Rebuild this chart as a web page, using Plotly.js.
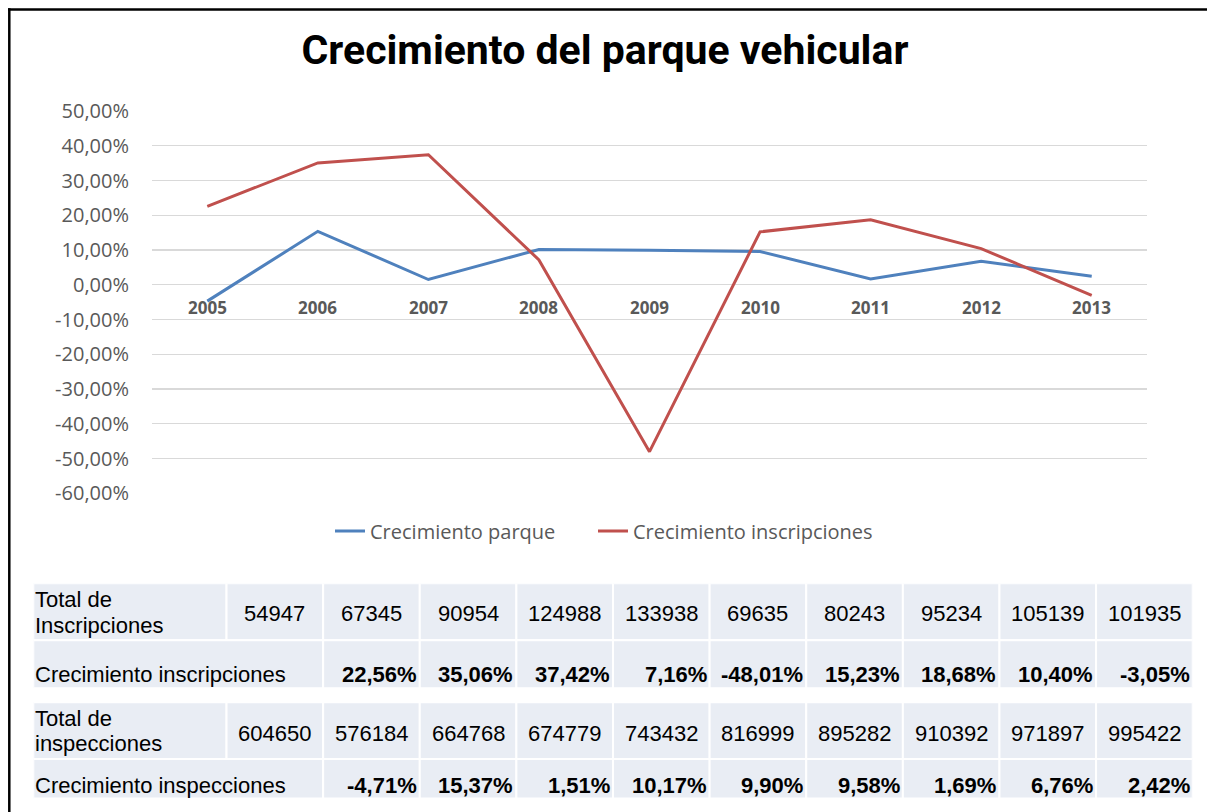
<!DOCTYPE html>
<html><head><meta charset="utf-8">
<script src="https://cdn.plot.ly/plotly-3.0.1.min.js"></script>
<style>html,body{margin:0;padding:0;background:#fff}</style>
</head><body><div id="chart" style="width:1207px;height:812px"></div>
<script>
// ---- data ----
const years = ['2005','2006','2007','2008','2009','2010','2011','2012','2013'];
const crecimientoParque = [-4.71, 15.37, 1.51, 10.17, 9.90, 9.58, 1.69, 6.76, 2.42];
const crecimientoInscripciones = [22.56, 35.06, 37.42, 7.16, -48.01, 15.23, 18.68, 10.40, -3.05];
const totalInscripciones = [54947, 67345, 90954, 124988, 133938, 69635, 80243, 95234, 105139, 101935];
const totalInspecciones = [604650, 576184, 664768, 674779, 743432, 816999, 895282, 910392, 971897, 995422];
const yTickValues = [50, 40, 30, 20, 10, 0, -10, -20, -30, -40, -50, -60];
const seriesNames = ['Crecimiento parque', 'Crecimiento inscripciones'];
const chartTitle = 'Crecimiento del parque vehicular';
const rowLabels = [['Total de', 'Inscripciones'], ['Crecimiento inscripciones'], ['Total de', 'inspecciones'], ['Crecimiento inspecciones']];

// ---- helpers ----
const pct = v => v.toFixed(2).replace('.', ',') + '%';
const W = 1207, H = 812;
const px = x => x / W, py = y => 1 - y / H;

const GRAY = '#595959';
const TFONT = 'Liberation Sans, Arial, sans-serif';

const traces = [
  {type: 'scatter', mode: 'lines', x: years, y: crecimientoParque, name: seriesNames[0], legend: 'legend',
   line: {color: '#4F81BD', width: 3}, hoverinfo: 'skip'},
  {type: 'scatter', mode: 'lines', x: years, y: crecimientoInscripciones, name: seriesNames[1], legend: 'legend2',
   line: {color: '#C0504D', width: 3}, hoverinfo: 'skip'}
];

const annotations = [];
const shapes = [];

// year labels on the zero line (category index positions)
years.forEach((yr, i) => annotations.push({
  x: i, y: 0, xref: 'x', yref: 'y', text: yr, showarrow: false,
  xanchor: 'center', yanchor: 'middle', yshift: -23,
  font: {family: 'Open Sans, sans-serif', size: 17, color: GRAY, weight: 700}
}));

// ---- table (x2: column units, y2: row units) ----
const rows = [
  {y0: 0, y1: 57, labelSpan: 2, values: totalInscripciones.map(String), start: 2, bold: false, align: 'center', labelY: [16.5, 42], valY: 30.7},
  {y0: 57, y1: 105, labelSpan: 3, values: crecimientoInscripciones.map(pct), start: 3, bold: true, align: 'right', labelY: [91.5], valY: 91.5},
  {y0: 119, y1: 176, labelSpan: 2, values: totalInspecciones.map(String), start: 2, bold: false, align: 'center', labelY: [135, 160.5], valY: 150.5},
  {y0: 176, y1: 215.5, labelSpan: 3, values: crecimientoParque.map(pct), start: 3, bold: true, align: 'right', labelY: [202], valY: 202.5}
];
const CELL = '#E9EDF4';
rows.forEach((r, ri) => {
  shapes.push({type: 'rect', xref: 'x2', yref: 'y2', x0: 0, x1: r.labelSpan, y0: r.y0, y1: r.y1,
    fillcolor: CELL, line: {color: '#ffffff', width: 2}, layer: 'below'});
  rowLabels[ri].forEach((t, li) => annotations.push({
    xref: 'x2', yref: 'y2', x: 0, y: r.labelY[li], text: t, showarrow: false,
    xanchor: 'left', yanchor: 'middle', xshift: 0,
    font: {family: TFONT, size: 22, color: '#000'}
  }));
  r.values.forEach((v, i) => {
    const c0 = r.start + i;
    shapes.push({type: 'rect', xref: 'x2', yref: 'y2', x0: c0, x1: c0 + 1, y0: r.y0, y1: r.y1,
      fillcolor: CELL, line: {color: '#ffffff', width: 2}, layer: 'below'});
    annotations.push({
      xref: 'x2', yref: 'y2', x: r.align === 'center' ? c0 + 0.5 : c0 + 1, y: r.valY,
      text: v, showarrow: false, xanchor: r.align, yanchor: 'middle', xshift: r.align === 'right' ? -1 : 0,
      font: {family: TFONT, size: 22, color: '#000', weight: r.bold ? 700 : 400}
    });
  });
});

// frame lines
shapes.push({type: 'line', xref: 'paper', yref: 'paper', x0: px(8), x1: 1, y0: py(9.5), y1: py(9.5), line: {color: '#000', width: 2.5}});
shapes.push({type: 'line', xref: 'paper', yref: 'paper', x0: px(9.3), x1: px(9.3), y0: py(8.3), y1: 0, line: {color: '#000', width: 2.5}});

const legendStyle = {orientation: 'h', yanchor: 'middle', xanchor: 'left', y: py(531),
  font: {family: 'Open Sans, sans-serif', size: 20, color: GRAY}, bgcolor: 'rgba(0,0,0,0)'};

const layout = {
  width: W, height: H,
  margin: {l: 0, r: 0, t: 0, b: 0},
  paper_bgcolor: '#fff', plot_bgcolor: 'rgba(0,0,0,0)',
  title: {text: chartTitle, x: px(605), y: py(50), xref: 'paper', yref: 'paper', xanchor: 'center', yanchor: 'middle',
          font: {family: 'Roboto, sans-serif', size: 41, color: '#000', weight: 700}},
  showlegend: true,
  legend: Object.assign({x: px(330)}, legendStyle),
  legend2: Object.assign({x: px(593)}, legendStyle),
  xaxis: {type: 'category', categoryarray: years, range: [-0.5, 8.5], domain: [px(152), px(1147)],
          showgrid: false, zeroline: false, showticklabels: false, showline: false, fixedrange: true},
  yaxis: {range: [-60, 50], domain: [py(493.3), py(111)], tickvals: yTickValues, ticktext: yTickValues.map(pct),
          showgrid: true, gridcolor: '#D9D9D9', gridwidth: 1.3, zeroline: false, showline: false,
          ticklabelstandoff: 22, fixedrange: true,
          tickfont: {family: 'Open Sans, sans-serif', size: 20, color: GRAY}},
  xaxis2: {domain: [px(33.3), px(1192.7)], range: [0, 12], anchor: 'y2', visible: false, fixedrange: true},
  yaxis2: {domain: [py(799), py(583.3)], range: [216, 0], anchor: 'x2', visible: false, fixedrange: true},
  annotations: annotations,
  shapes: shapes
};

Plotly.newPlot('chart', traces, layout, {displayModeBar: false, staticPlot: true});
</script>
</body></html>
